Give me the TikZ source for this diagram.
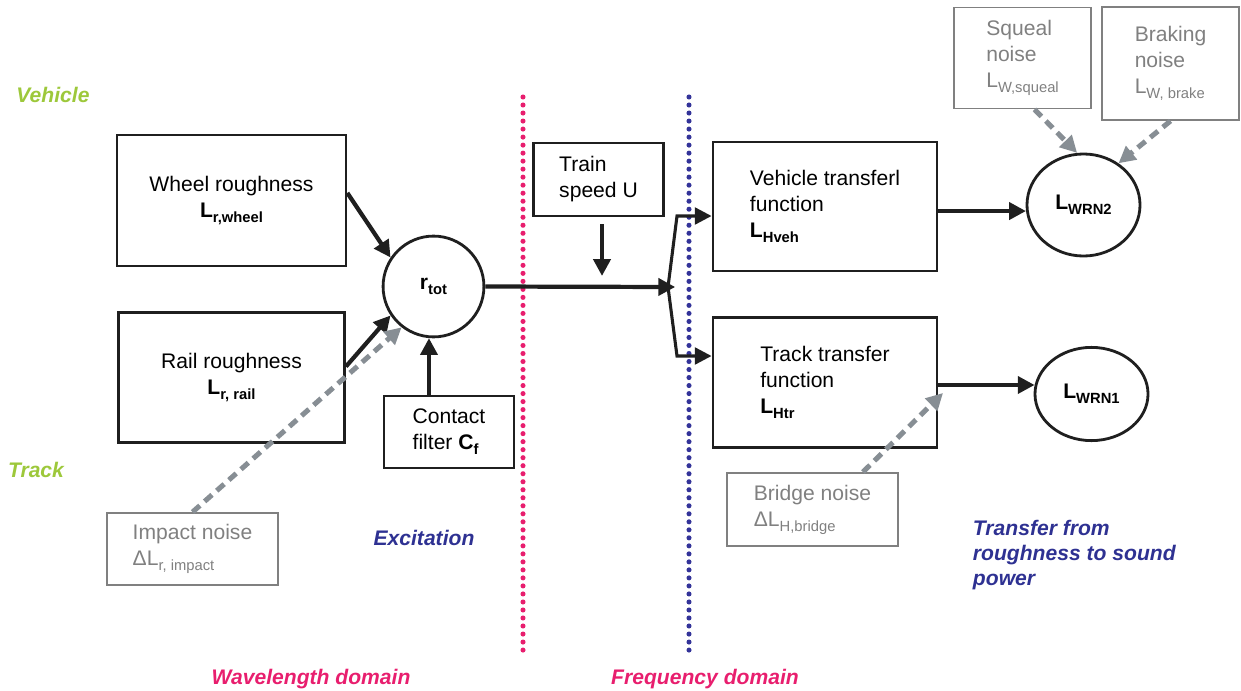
\documentclass[tikz,border=0pt]{standalone}
\usepackage{fontspec}
\setmainfont{Liberation Sans}
\usetikzlibrary{arrows.meta,shapes.geometric}

\definecolor{vehgreen}{RGB}{157,200,59}
\definecolor{wavepink}{RGB}{232,30,110}
\definecolor{freqblue}{RGB}{51,51,153}
\definecolor{labelblue}{RGB}{46,49,146}
\definecolor{noisegray}{RGB}{128,128,128}
\definecolor{dashgray}{RGB}{135,142,148}

% lowered index for level names
\newcommand{\lowsub}[1]{\raisebox{-3.5pt}{\fontsize{10.5}{12}\selectfont #1}}

\begin{document}
\begin{tikzpicture}[
    x=0.025cm, y=-0.025cm,
    font=\fontsize{15}{18.5}\selectfont,
    block/.style={rectangle, draw=black!88, line width=2pt, align=left, inner sep=0pt},
    gblock/.style={rectangle, draw=noisegray, line width=1.3pt, text=noisegray, align=left, inner sep=0pt},
    sumnode/.style={circle, draw=black!88, line width=2pt, minimum size=2.52cm, inner sep=0pt},
    outnode/.style={ellipse, draw=black!88, line width=2pt, inner sep=0pt},
    arrow/.style={-{Triangle[length=0.42cm,width=0.42cm]}, line width=3pt, black!88},
    noisearrow/.style={-{Triangle[length=0.42cm,width=0.42cm]}, line width=3.6pt, dashgray, dash pattern=on 7pt off 4.5pt},
    domline/.style={line width=3.6pt, line cap=round, dash pattern=on 0pt off 5.7pt},
    tag/.style={font=\fontsize{15}{18}\selectfont\bfseries\itshape}
]
    \useasboundingbox (0,0) rectangle (1241,690);

    % excitation side
    \node[block, minimum width=5.72cm, minimum height=3.27cm, align=center] (wheel) at (231.5,200.5) {Wheel roughness\\\textbf{L\lowsub{r,wheel}}};
    \node[block, minimum width=5.65cm, minimum height=3.25cm, align=center, node distance=4.42cm, below of=wheel] (rail) {Rail roughness\\\textbf{L\lowsub{r, rail}}};
    \node[sumnode] (rtot) at (433.5,286.5) {\textbf{r\lowsub{tot}}};
    \node[block, line width=1.5pt, minimum width=3.25cm, minimum height=1.8cm] (contact) at (449,432) {Contact\\filter \textbf{C\lowsub{f}}};
    \node[block, line width=1.7pt, minimum width=3.25cm, minimum height=1.825cm] (train) at (598.5,179.5) {Train\\speed U};
    \node[gblock, minimum width=4.275cm, minimum height=1.8cm] (impact) at (192.5,549) {Impact noise\\ΔL\lowsub{r, impact}};

    % transfer side
    \node[block, minimum width=5.6cm, minimum height=3.225cm] (vehicle) at (825,206.5) {Vehicle transferl\\function\\\textbf{L\lowsub{Hveh}}};
    \node[block, minimum width=5.6cm, minimum height=3.25cm, node distance=4.39cm, below of=vehicle] (track) {Track transfer\\function\\\textbf{L\lowsub{Htr}}};
    \node[outnode, minimum width=2.825cm, minimum height=2.55cm] (wrn2) at (1083.5,205) {\textbf{L\lowsub{WRN2}}};
    \node[outnode, minimum width=2.825cm, minimum height=2.33cm] (wrn1) at (1091.5,394) {\textbf{L\lowsub{WRN1}}};
    \node[gblock, minimum width=4.275cm, minimum height=1.825cm] (bridge) at (812.5,509.5) {Bridge noise\\ΔL\lowsub{H,bridge}};
    \node[gblock, minimum width=3.425cm, minimum height=2.525cm] (squeal) at (1022.5,58) {Squeal\\noise\\L\lowsub{W,squeal}};
    \node[gblock, minimum width=3.425cm, minimum height=2.825cm] (braking) at (1170.5,63.5) {Braking\\noise\\L\lowsub{W, brake}};

    % labels
    \node[tag, text=vehgreen] (vehtag) at (53,95) {Vehicle};
    \node[tag, text=vehgreen] (tracktag) at (36,470) {Track};
    \node[tag, text=labelblue] (excite) at (424,538) {Excitation};
    \node[tag, text=labelblue, align=left, anchor=west] (transfer) at (968,555) {Transfer from\\roughness to sound\\power};
    \node[tag, text=wavepink] (wavedom) at (311,679) {Wavelength domain};
    \node[tag, text=wavepink] (freqdom) at (705,679) {Frequency domain};

    % domain borders
    \draw[domline, wavepink] (523,97) -- (523,651);
    \draw[domline, freqblue] (689,97) -- (689,652);

    \coordinate (fork) at (668,287);
    \coordinate (vup) at (677,216);
    \coordinate (tdown) at (677,356);
    \coordinate (speedtip) at (602,276);
    \coordinate (bridgetip) at (943,393);

    \draw[arrow] ([yshift=0.19cm]wheel.east) -- (rtot.146);
    \draw[arrow] ([yshift=0.27cm]rail.east) -- (rtot.214);
    \draw[arrow] (contact.north -| rtot.265) -- (rtot.265);
    \draw[noisearrow] (impact.north) -- (rtot.232);

    \draw[arrow] (rtot.east) -- ([xshift=0.18cm]fork);
    \draw[arrow, shorten <=0.18cm] (train.south -| speedtip) -- (speedtip);
    \draw[arrow, line width=2.2pt] (fork) -- (vup) -- (vup -| vehicle.west);
    \draw[arrow, line width=2.2pt] (fork) -- (tdown) -- (tdown -| track.west);

    \draw[arrow] (vehicle.east |- wrn2.186) -- (wrn2.186);
    \draw[arrow] (track.east |- wrn1.171) -- (wrn1.171);
    \draw[noisearrow] ([xshift=0.3cm]squeal.south) -- (wrn2.97);
    \draw[noisearrow] (braking.south) -- (wrn2.50);
    \draw[noisearrow] ([xshift=1.26cm]bridge.north) -- (bridgetip);
\end{tikzpicture}
\end{document}
